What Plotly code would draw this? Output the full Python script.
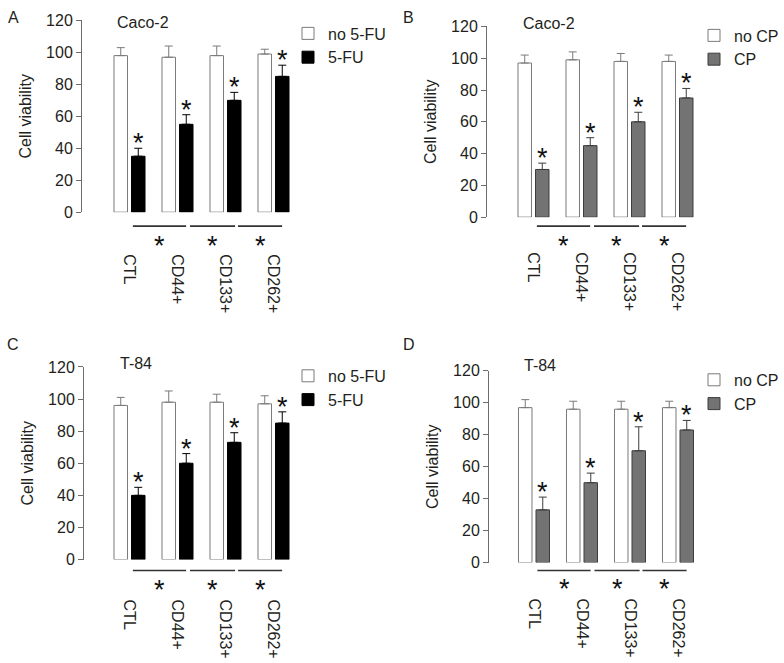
import plotly.graph_objects as go

W, H = 784, 663

categories = ["CTL", "CD44+", "CD133+", "CD262+"]
y_tick_values = [0, 20, 40, 60, 80, 100, 120]

# Panel A - Caco-2, 5-FU
a_no_drug = [98, 97, 98, 99]
a_no_drug_err = [5, 7, 6, 3]
a_drug = [35, 55, 70, 85]
a_drug_err = [5, 6, 5, 7]

# Panel B - Caco-2, CP
b_no_drug = [97, 99, 98, 98]
b_no_drug_err = [5, 5, 5, 4]
b_drug = [30, 45, 60, 75]
b_drug_err = [4, 5, 6, 6]

# Panel C - T-84, 5-FU
c_no_drug = [96, 98, 98, 97]
c_no_drug_err = [5, 7, 5, 5]
c_drug = [40, 60, 73, 85]
c_drug_err = [5, 6, 6, 7]

# Panel D - T-84, CP
d_no_drug = [97, 96, 96, 97]
d_no_drug_err = [5, 5, 5, 4]
d_drug = [33, 50, 70, 83]
d_drug_err = [8, 6, 15, 6]

# significance brackets below the bars (in category units)
bracket_start = [0.07, 1.26, 2.26]
bracket_end = [1.18, 2.20, 3.18]

FONT = "Liberation Sans, Arial, sans-serif"
TXT = "#231f20"
AX = "#6d6d6d"
BARGAP = 0.27
GROUPGAP = 0.23
PPU = 48.0  # pixels per category


def Y(px):
    """target vertical pixel -> figure pixel (calibrated against the viewer)"""
    return (px - 6.5) / 0.976


panels = [
    dict(letter="A", cell="Caco-2", drug="5-FU", no=a_no_drug, no_err=a_no_drug_err,
         d=a_drug, d_err=a_drug_err, fill="#000000", edge="#000000",
         axis_px=82, x0=129.5, top=19, bottom=211, letter_xy=(13, 16), title_xy=(115, 21),
         legend_xy=(288, 33), line_y=225, star_y=239, label_y=255),
    dict(letter="B", cell="Caco-2", drug="CP", no=b_no_drug, no_err=b_no_drug_err,
         d=b_drug, d_err=b_drug_err, fill="#737373", edge="#3c3c3c",
         axis_px=487, x0=533.5, top=25, bottom=216, letter_xy=(409, 16), title_xy=(521, 22),
         legend_xy=(694, 35), line_y=225, star_y=239, label_y=253),
    dict(letter="C", cell="T-84", drug="5-FU", no=c_no_drug, no_err=c_no_drug_err,
         d=c_drug, d_err=c_drug_err, fill="#000000", edge="#000000",
         axis_px=84, x0=129.5, top=366, bottom=559, letter_xy=(13, 344), title_xy=(118, 363),
         legend_xy=(288, 376), line_y=570, star_y=583, label_y=601),
    dict(letter="D", cell="T-84", drug="CP", no=d_no_drug, no_err=d_no_drug_err,
         d=d_drug, d_err=d_drug_err, fill="#737373", edge="#3c3c3c",
         axis_px=489, x0=534, top=370, bottom=562, letter_xy=(409, 344), title_xy=(522, 365),
         legend_xy=(694, 380), line_y=570, star_y=582, label_y=600),
]

fig = go.Figure()
annotations = []
shapes = []
drug_offset = (1 - BARGAP) / 4.0

for i, p in enumerate(panels):
    n = "" if i == 0 else str(i + 1)
    xa, ya = "x" + n, "y" + n
    leg = "legend" + n
    right_px = p["x0"] + 3.62 * PPU
    xr = [(p["axis_px"] - p["x0"]) / PPU, (right_px - p["x0"]) / PPU]
    fig.add_trace(go.Bar(
        x=categories, y=p["no"], name="no " + p["drug"], xaxis=xa, yaxis=ya, legend=leg,
        marker=dict(color="white", line=dict(color="#7a7a7a", width=1)),
        error_y=dict(type="data", array=p["no_err"], arrayminus=[0] * 4, symmetric=False,
                     color="#7a7a7a", thickness=1, width=4),
    ))
    fig.add_trace(go.Bar(
        x=categories, y=p["d"], name=p["drug"], xaxis=xa, yaxis=ya, legend=leg,
        marker=dict(color=p["fill"], line=dict(color=p["edge"], width=1)),
        error_y=dict(type="data", array=p["d_err"], arrayminus=[0] * 4, symmetric=False,
                     color=p["edge"], thickness=1, width=4),
    ))
    top, bottom = Y(p["top"]), Y(p["bottom"])
    h = bottom - top
    dom_x = [p["axis_px"] / W, right_px / W]
    dom_y = [1 - bottom / H, 1 - top / H]
    fig.update_layout(**{
        ("xaxis" + n): dict(domain=dom_x, anchor=ya, range=xr, showline=False, ticks="",
                            showgrid=False, zeroline=False, tickangle=90,
                            ticklabelstandoff=int(round(Y(p["label_y"]) - bottom - 4)),
                            tickfont=dict(family=FONT, size=16, color=TXT)),
        ("yaxis" + n): dict(domain=dom_y, anchor=xa, range=[0, 120], tickvals=y_tick_values,
                            showline=True, linecolor=AX, linewidth=1, ticks="outside",
                            ticklen=5, tickcolor=AX, showgrid=False, zeroline=False,
                            tickfont=dict(family=FONT, size=16, color=TXT),
                            title=dict(text="Cell viability", standoff=10,
                                       font=dict(family=FONT, size=16, color=TXT))),
        leg: dict(x=p["legend_xy"][0] / W, y=1 - Y(p["legend_xy"][1] - 18) / H,
                  xanchor="left", yanchor="top", bgcolor="rgba(0,0,0,0)",
                  traceorder="normal", font=dict(family=FONT, size=16, color=TXT)),
    })
    # panel letter and cell line title
    annotations.append(dict(text=p["letter"], xref="paper", yref="paper",
                            x=p["letter_xy"][0] / W, y=1 - Y(p["letter_xy"][1]) / H,
                            showarrow=False, xanchor="center", yanchor="middle",
                            font=dict(family=FONT, size=16, color=TXT)))
    annotations.append(dict(text=p["cell"], xref="paper", yref="paper",
                            x=p["title_xy"][0] / W, y=1 - Y(p["title_xy"][1]) / H,
                            showarrow=False, xanchor="left", yanchor="middle",
                            font=dict(family=FONT, size=16, color=TXT)))
    # stars above treated bars
    for k in range(len(categories)):
        annotations.append(dict(text="*", xref=xa, yref=ya, x=k + drug_offset,
                                y=p["d"][k] + p["d_err"][k], showarrow=False,
                                xanchor="center", yanchor="middle", yshift=5,
                                font=dict(family=FONT, size=27, color="#111111")))
    # brackets and stars below
    for s, e in zip(bracket_start, bracket_end):
        yl = -(Y(p["line_y"]) - bottom) / h
        shapes.append(dict(type="line", xref=xa, yref=ya + " domain", x0=s, x1=e,
                           y0=yl, y1=yl, line=dict(color="#333333", width=1.6)))
        ys = -(Y(p["star_y"]) - bottom) / h
        annotations.append(dict(text="*", xref=xa, yref=ya + " domain", x=(s + e) / 2,
                                y=ys, showarrow=False, xanchor="center", yanchor="middle",
                                yshift=-6, font=dict(family=FONT, size=27, color="#111111")))

fig.update_layout(
    width=W, height=H, margin=dict(l=0, r=0, t=0, b=0),
    paper_bgcolor="white", plot_bgcolor="white",
    barmode="group", bargap=BARGAP, bargroupgap=GROUPGAP,
    annotations=annotations, shapes=shapes,
    font=dict(family=FONT, size=16, color=TXT),
)

fig.write_html("out.html", config={"displayModeBar": False},
               post_script="document.body.style.margin='0';")
